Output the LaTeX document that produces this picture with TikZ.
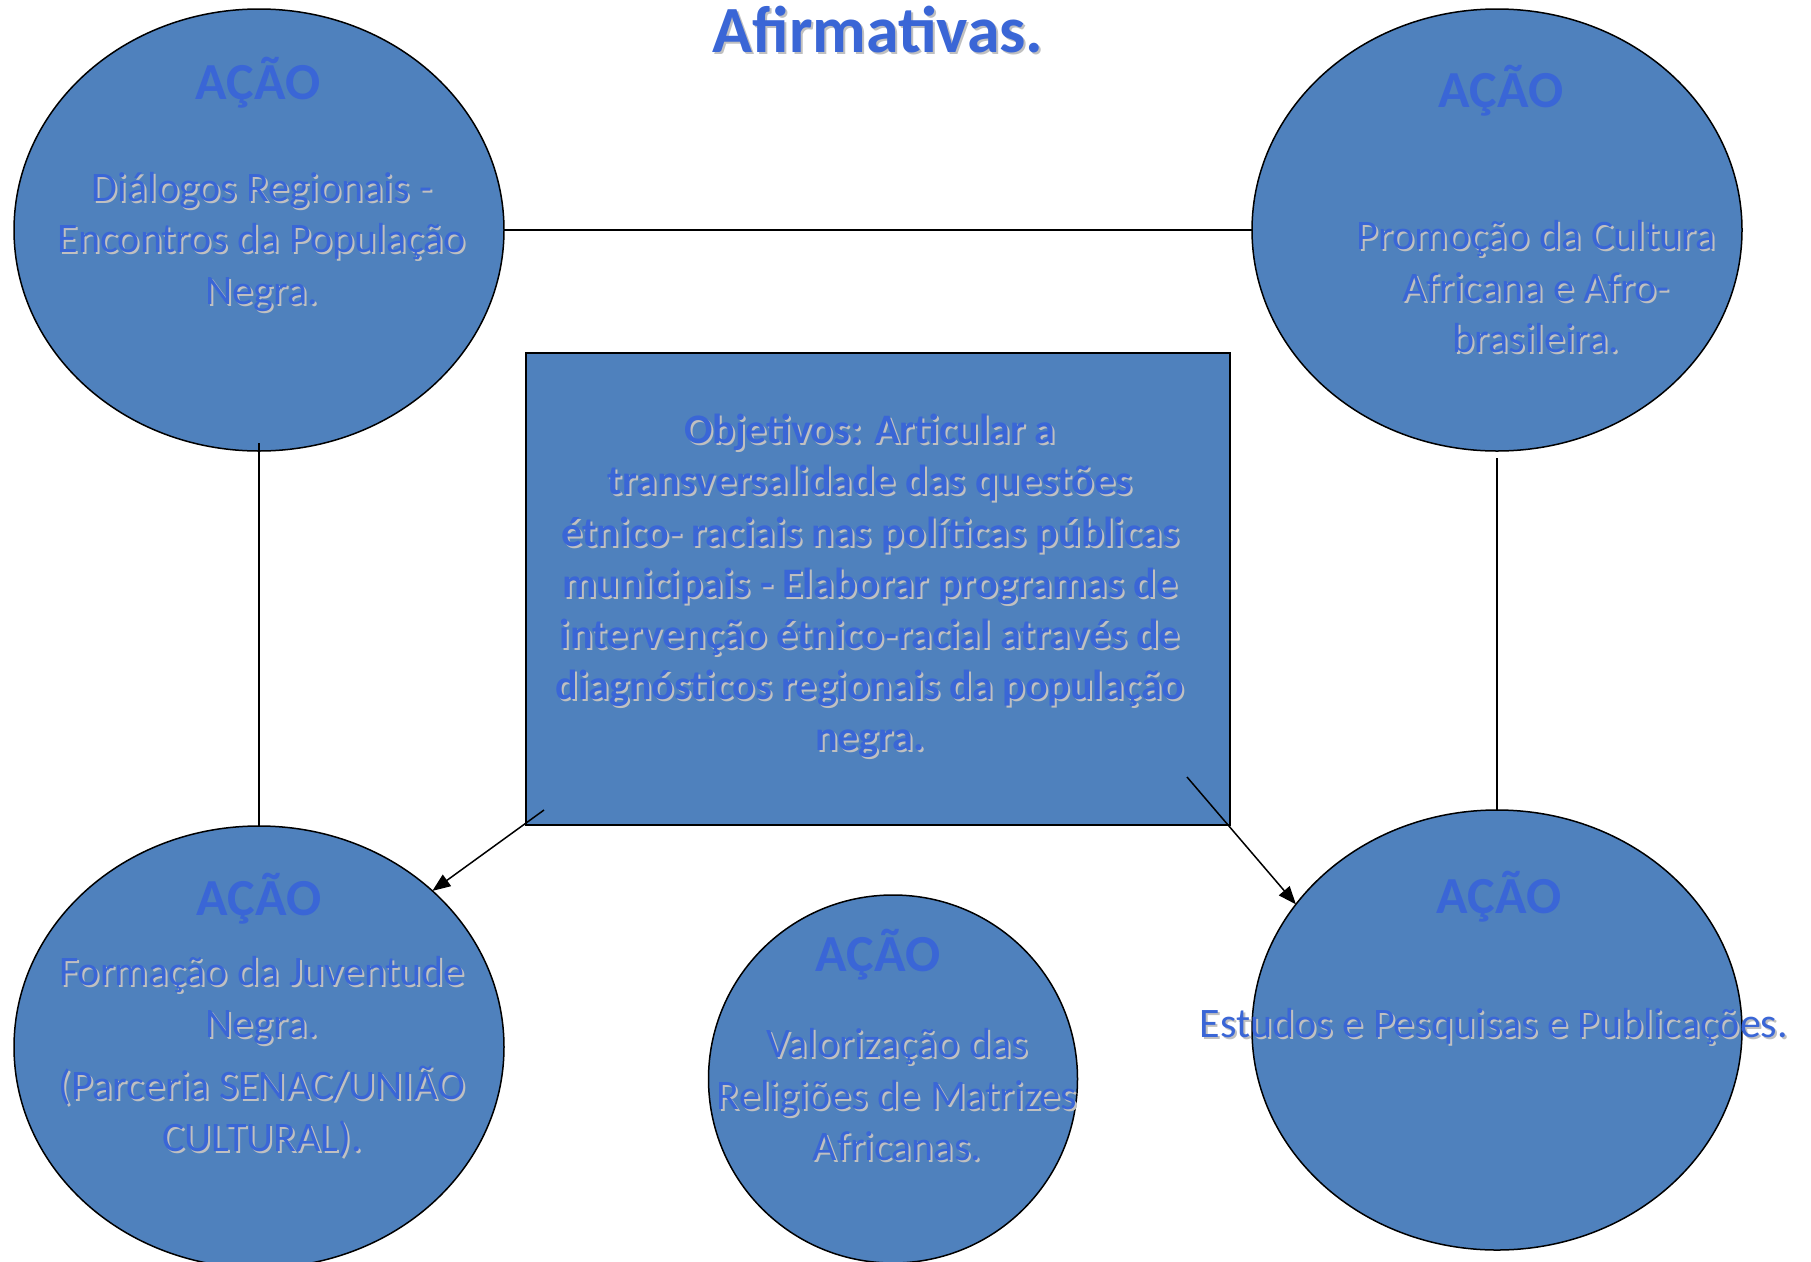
\documentclass[tikz,border=0pt]{standalone}
\usepackage{fontspec}
\setmainfont{Carlito}
\usetikzlibrary{shapes.geometric,arrows.meta}
\definecolor{fillblue}{HTML}{4F81BD}
\definecolor{txtblue}{HTML}{3A66D6}
\definecolor{shgray}{HTML}{C0C0C0}
\newcommand\shd[1]{\leavevmode\rlap{\kern2pt\raisebox{-2pt}{\textcolor{shgray}{#1}}}\textcolor{txtblue}{#1}}
\begin{document}
\begin{tikzpicture}[x=1pt,y=-1pt,
  acao/.style={ellipse,draw=black,line width=1.5pt,fill=fillblue,inner sep=0pt,outer sep=0pt,minimum width=490pt,minimum height=442pt},
  objbox/.style={rectangle,draw=black,line width=1.5pt,fill=fillblue,inner sep=0pt,outer sep=0pt,minimum width=704pt,minimum height=472pt},
  head/.style={font=\fontsize{52}{60}\selectfont\bfseries,text=txtblue,inner sep=0pt,anchor=base},
  body/.style={font=\fontsize{42}{51.5}\selectfont,align=center,inner sep=0pt},
  bodyb/.style={font=\fontsize{42}{51.2}\selectfont\bfseries,align=center,inner sep=0pt},
  conn/.style={draw=black,line width=1.5pt},
  arr/.style={conn,-{Triangle[length=18pt,width=14pt]}}]
\clip (0,0) rectangle (1811,1261);
\fill[white] (0,0) rectangle (1811,1261);

% shapes
\node[acao] (tl) at (259,230) {};
\node[acao] (tr) at (1497,230) {};
\node[acao] (bl) at (259,1047) {};
\node[acao,minimum width=369pt,minimum height=368pt] (bc) at (893,1079) {};
\node[acao,minimum height=440pt] (br) at (1497,1030) {};
\node[objbox] (obj) at (878,589) {};

% title
\node[font=\fontsize{66}{70}\selectfont\bfseries,inner sep=0pt,anchor=base] (title) at (878,52) {\shd{Afirmativas.}};

% headings
\node[head] (h1) at (258,99) {AÇÃO};
\node[head] (h2) at (1501,107) {AÇÃO};
\node[head] (h3) at (259,915) {AÇÃO};
\node[head] (h4) at (878,971) {AÇÃO};
\node[head] (h5) at (1499,913) {AÇÃO};

% bodies
\node[body] (t1) at (262,243) {\shd{Diálogos Regionais -}\\\shd{Encontros da População}\\\shd{Negra.}};
\node[body] (t2) at (1536,288) {\shd{Promoção da Cultura}\\\shd{Africana e Afro-}\\\shd{brasileira.}};
\node[body] (t3) at (262,1058) {\shd{Formação da Juventude}\\\shd{Negra.}\\[11pt]\shd{(Parceria SENAC/UNIÃO}\\\shd{CULTURAL).}};
\node[body] (t4) at (897,1096) {\shd{Valorização das}\\\shd{Religiões de Matrizes}\\\shd{Africanas.}};
\node[body,anchor=base] (t5) at (1494,1037) {\shd{Estudos e Pesquisas e Publicações.}};
\node[bodyb] (t6) at (870,587) {\shd{Objetivos: Articular a}\\\shd{transversalidade das questões}\\\shd{étnico- raciais nas políticas públicas}\\\shd{municipais - Elaborar programas de}\\\shd{intervenção étnico-racial através de}\\\shd{diagnósticos regionais da população}\\\shd{negra.}};

% connectors
\coordinate (c1) at ([xshift=18pt,yshift=15pt]obj.south west);
\coordinate (c2) at ([xshift=-43pt,yshift=48pt]obj.south east);
\coordinate (trs) at ([yshift=-7pt]tr.south);
\draw[conn] (tl.east) -- (tr.west);
\draw[conn] ([yshift=8pt]tl.south) -- (bl.north);
\draw[conn] (trs) -- (br.north);
\draw[arr] (c1) -- (bl.42);
\draw[arr] (c2) -- (br.148);
\end{tikzpicture}
\end{document}
